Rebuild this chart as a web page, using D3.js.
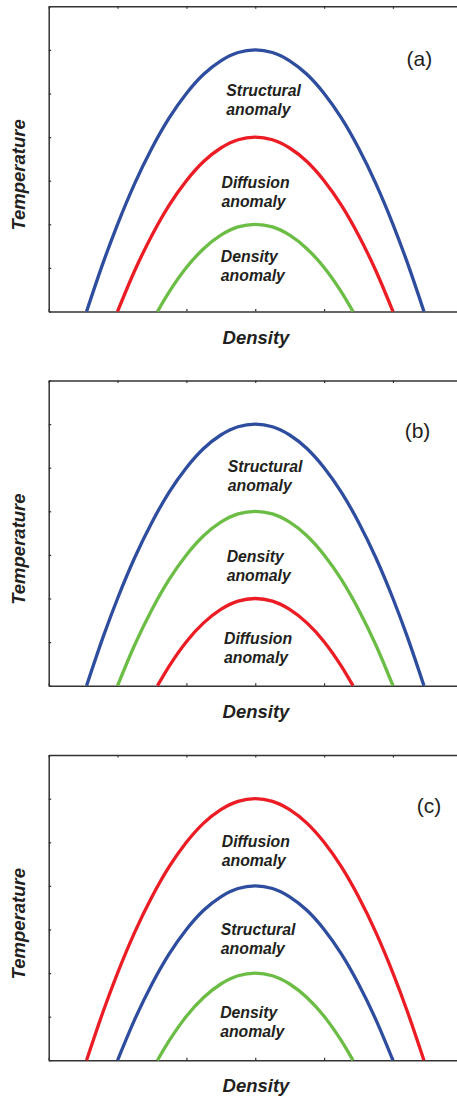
<!DOCTYPE html>
<html>
<head>
<meta charset="utf-8">
<script src="https://cdn.jsdelivr.net/npm/d3@7"></script>
<style>
  html, body { margin: 0; padding: 0; background: #fff; }
  svg { display: block; }
  text { font-family: "Liberation Sans", Arial, sans-serif; fill: #231f20; }
</style>
</head>
<body>
<svg id="chart"></svg>
<script>
// Density (x) positions and temperature values
const outerX = [0.55, 0.8, 1.0, 1.25, 1.5, 1.75, 2.0, 2.25, 2.5, 2.75, 3.0, 3.25, 3.5, 3.75, 4.0, 4.25, 4.5, 4.75, 5.0, 5.2, 5.45];
const outerT = [0, 1.16, 2.0, 2.94, 3.75, 4.44, 5.0, 5.44, 5.75, 5.94, 6.0, 5.94, 5.75, 5.44, 5.0, 4.44, 3.75, 2.94, 2.0, 1.16, 0];
const middleX = [1.0, 1.25, 1.5, 1.75, 2.0, 2.25, 2.5, 2.75, 3.0, 3.25, 3.5, 3.75, 4.0, 4.25, 4.5, 4.75, 5.0];
const middleT = [0, 0.94, 1.75, 2.44, 3.0, 3.44, 3.75, 3.94, 4.0, 3.94, 3.75, 3.44, 3.0, 2.44, 1.75, 0.94, 0];
const innerX = [1.58, 1.75, 2.0, 2.25, 2.5, 2.75, 3.0, 3.25, 3.5, 3.75, 4.0, 4.25, 4.42];
const innerT = [0, 0.45, 1.01, 1.44, 1.75, 1.94, 2.0, 1.94, 1.75, 1.44, 1.01, 0.45, 0];

const panelTags = ['(a)', '(b)', '(c)'];
// which anomaly is outer / middle / inner in each panel
const panelOrder = [
  ['Structural', 'Diffusion', 'Density'],
  ['Structural', 'Density', 'Diffusion'],
  ['Diffusion', 'Structural', 'Density']
];
const xTicks = [0, 1, 2, 3, 4, 5, 6];
const yTicks = [0, 1, 2, 3, 4, 5, 6, 7];

const colors = { Structural: '#2e4d9f', Diffusion: '#ec1c24', Density: '#6bbd45' };

// label anchors (data units) per panel: [x, T] for outer, middle, inner label
const labelPos = [
  [[2.58, 4.94], [2.51, 2.83], [2.50, 1.14]],
  [[2.60, 4.90], [2.585, 2.84], [2.546, 0.95]],
  [[2.513, 4.89], [2.50, 2.87], [2.49, 0.96]]
];
const tagPos = [[5.197, 5.62], [5.17, 5.67], [5.345, 5.665]];

const W = 457, H = 1096;
const offsets = [0, 374.2, 748.8];

const svg = d3.select('#chart').attr('width', W).attr('height', H);

const x = d3.scaleLinear().domain([0, 6]).range([48.7, 461.8]);
const y = d3.scaleLinear().domain([0, 7]).range([311.5, 6.3]);

const line = d3.line()
  .x(d => x(d[0]))
  .y(d => y(d[1]))
  .curve(d3.curveMonotoneX);

const shapes = [
  d3.zip(outerX, outerT),
  d3.zip(middleX, middleT),
  d3.zip(innerX, innerT)
];

panelTags.forEach((tag, i) => {
  const g = svg.append('g').attr('transform', `translate(0, ${offsets[i]})`);

  // frame with small inward ticks
  const styleAxis = sel => {
    sel.selectAll('text').remove();
    sel.select('.domain').attr('stroke', '#333').attr('stroke-width', 1.5);
    sel.selectAll('.tick line').attr('stroke', '#333').attr('stroke-width', 1.2);
  };
  g.append('g')
    .attr('transform', `translate(0, ${y(7)})`)
    .call(d3.axisTop(x).tickValues(xTicks).tickSizeInner(-2.5).tickSizeOuter(0))
    .call(styleAxis);
  g.append('g')
    .attr('transform', `translate(0, ${y(0)})`)
    .call(d3.axisBottom(x).tickValues(xTicks).tickSizeInner(-2.5).tickSizeOuter(0))
    .call(styleAxis);
  g.append('g')
    .attr('transform', `translate(${x(0)}, 0)`)
    .call(d3.axisLeft(y).tickValues(yTicks).tickSizeInner(-2.5).tickSizeOuter(0))
    .call(styleAxis);

  // curves
  panelOrder[i].forEach((name, k) => {
    g.append('path')
      .datum(shapes[k])
      .attr('d', line)
      .attr('fill', 'none')
      .attr('stroke', colors[name])
      .attr('stroke-width', 3.3);

    const [lx, ly] = labelPos[i][k];
    const t = g.append('text')
      .attr('x', x(lx))
      .attr('y', y(ly))
      .attr('font-size', 15.8)
      .attr('font-weight', 'bold')
      .attr('font-style', 'italic');
    t.append('tspan').attr('x', x(lx)).text(name);
    t.append('tspan').attr('x', x(lx)).attr('dy', 19).text('anomaly');
  });

  // panel tag
  g.append('text')
    .attr('x', x(tagPos[i][0]))
    .attr('y', y(tagPos[i][1]))
    .attr('font-size', 21)
    .text(tag);

  // axis titles
  g.append('text')
    .attr('x', 256)
    .attr('y', y(0) + 32)
    .attr('text-anchor', 'middle')
    .attr('font-size', 18.5)
    .attr('font-weight', 'bold')
    .attr('font-style', 'italic')
    .text('Density');

  g.append('text')
    .attr('transform', `translate(24.5, ${(y(0) + y(7)) / 2 + 16}) rotate(-90)`)
    .attr('text-anchor', 'middle')
    .attr('font-size', 18.5)
    .attr('font-weight', 'bold')
    .attr('font-style', 'italic')
    .text('Temperature');
});
</script>
</body>
</html>
